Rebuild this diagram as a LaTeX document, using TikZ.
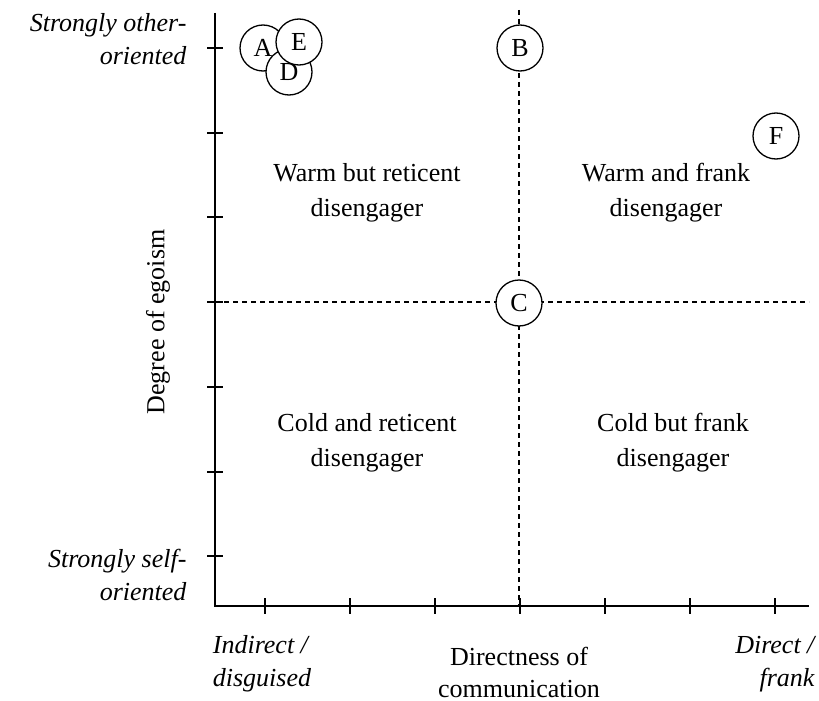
\documentclass[tikz,border=0pt]{standalone}
\usepackage{fontspec}
\setmainfont{Liberation Serif}
\begin{document}
\begin{tikzpicture}[x=1pt,y=-1pt,
  axis/.style={line width=2pt},
  tick/.style={line width=2pt},
  guide/.style={line width=1.2pt, dash pattern=on 5pt off 4pt},
  actor/.style={circle, draw, line width=1.3pt, fill=white, minimum size=46pt, inner sep=0pt},
  every node/.style={font=\fontsize{26}{31}\selectfont},
  quad/.style={align=center, font=\fontsize{26}{35}\selectfont},
  endlabel/.style={font=\fontsize{26}{33}\selectfont\itshape}]
  \useasboundingbox (0,0) rectangle (819,701);

  % axes
  \coordinate (O) at (215,606);
  \coordinate (ytop) at (215,13);
  \coordinate (xend) at (809,606);
  \draw[axis] (ytop) -- (O) -- (xend);

  % tick marks
  \foreach \i in {0,...,6} {
    \draw[tick] (265+85*\i,598) -- (265+85*\i,614);
    \draw[tick] (207,48+84.7*\i) -- (223,48+84.7*\i);
  }

  % quadrant dividers
  \coordinate (vtop) at (519,10);
  \coordinate (vbot) at (519,606);
  \coordinate (hleft) at (215,302);
  \coordinate (hright) at (809,302);
  \draw[guide] (vtop) -- (vbot);
  \draw[guide] (hleft) -- (hright);

  % quadrant labels
  \node[quad] (q1) at (367,193) {Warm but reticent\\disengager};
  \node[quad] (q2) at (666,193) {Warm and frank\\disengager};
  \node[quad] (q3) at (367,443) {Cold and reticent\\disengager};
  \node[quad] (q4) at (673,443) {Cold but frank\\disengager};

  % vertical axis labels
  \node[endlabel, align=right, anchor=east] (top) at (190,39) {Strongly other-\\oriented};
  \node[endlabel, align=right, anchor=east] (bot) at (190,575) {Strongly self-\\oriented};
  \node[rotate=90] (ylab) at (158,322) {Degree of egoism};

  % horizontal axis labels
  \node[endlabel, align=left] (left) at (262,664) {Indirect /\\disguised};
  \node[align=center, font=\fontsize{26}{32}\selectfont] (xlab) at (519,672) {Directness of\\communication};
  \node[endlabel, align=right, anchor=east] (right) at (818,664) {Direct /\\frank};

  % positions
  \node[actor] (A) at (263,48) {A};
  \node[actor] (D) at (289,72) {D};
  \node[actor] (E) at (299,42) {E};
  \node[actor] (B) at (520,48) {B};
  \node[actor] (C) at (519,303) {C};
  \node[actor] (F) at (776,136) {F};
\end{tikzpicture}
\end{document}
